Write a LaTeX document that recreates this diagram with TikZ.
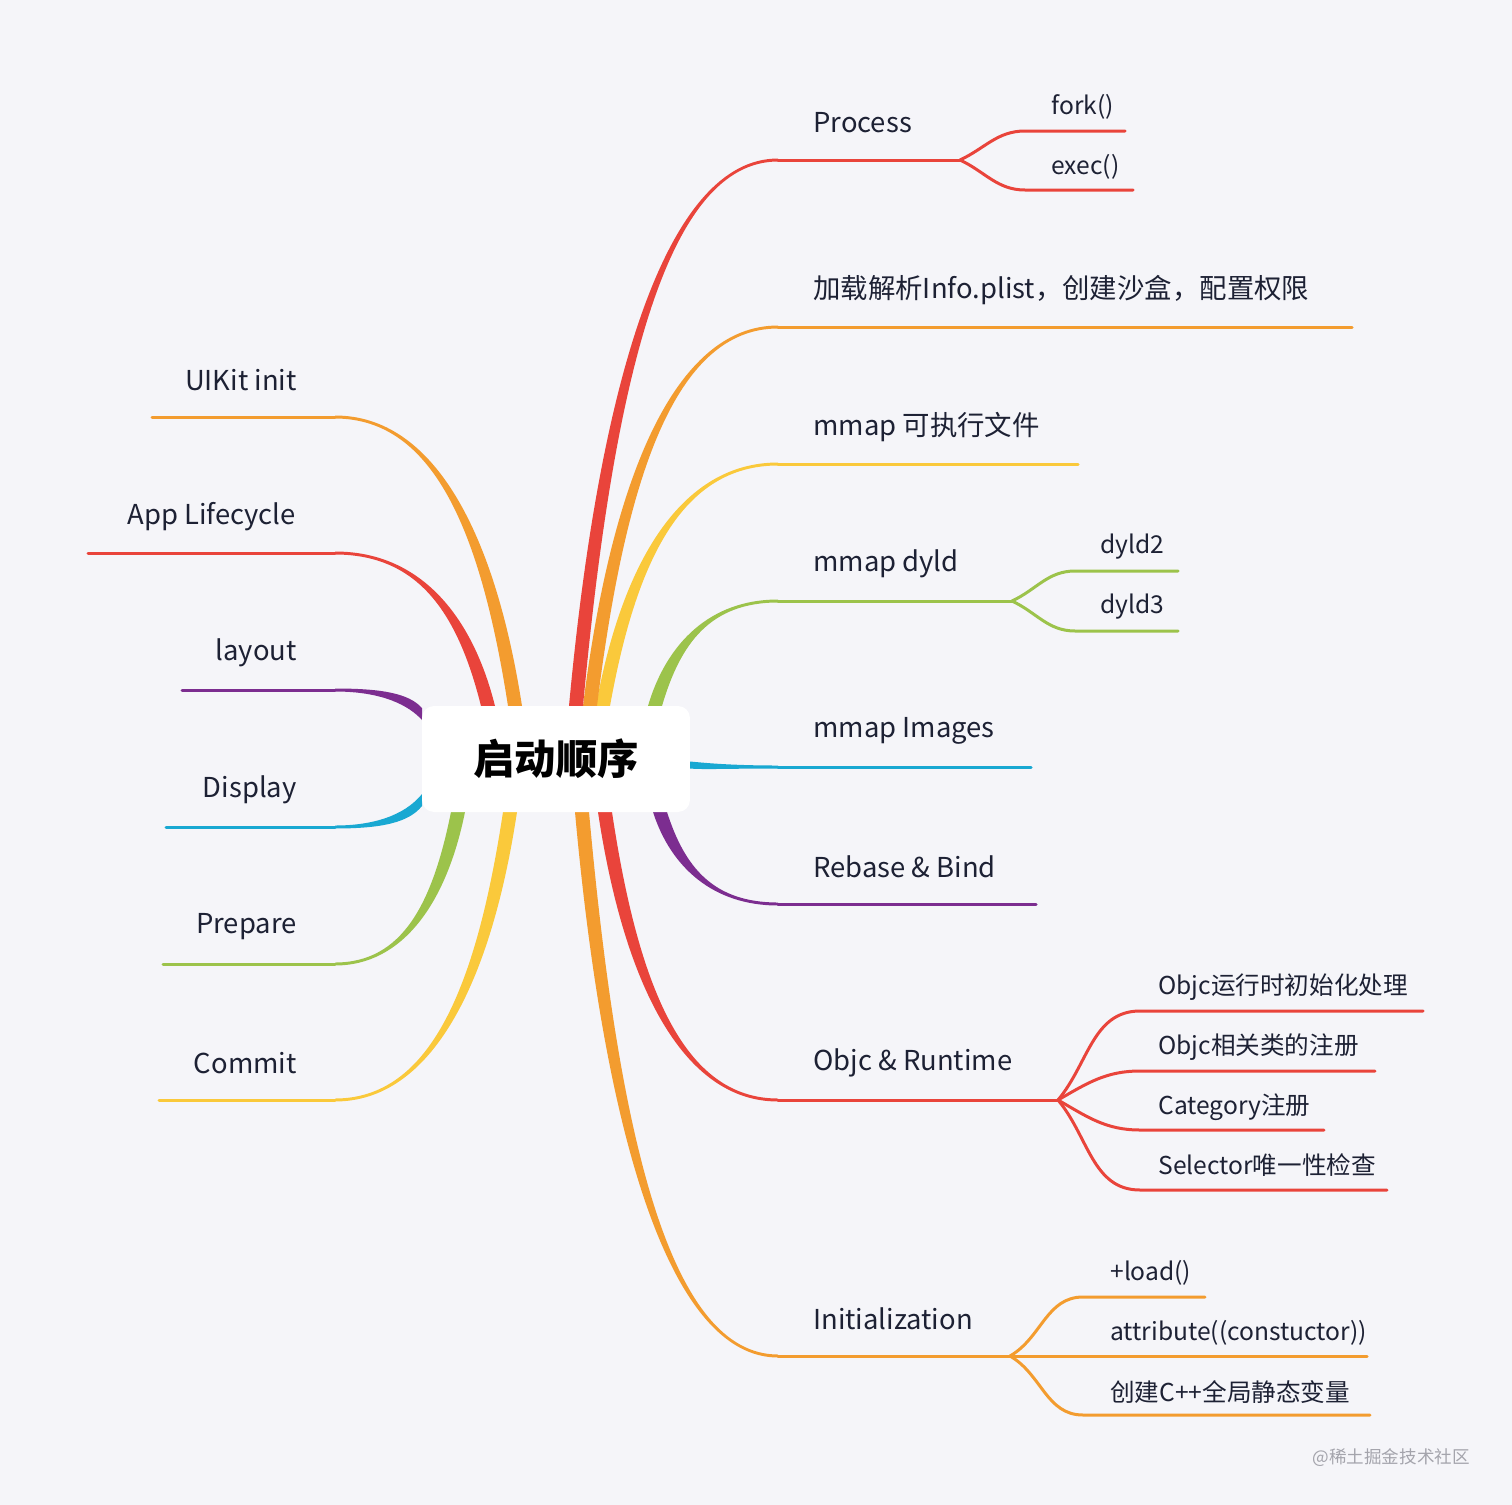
\documentclass[tikz,border=0pt]{standalone}
\usepackage{fontspec}
\setmainfont{Noto Sans CJK SC}
\usetikzlibrary{calc}
\definecolor{bgGray}{HTML}{F5F5F9}
\definecolor{inkNavy}{HTML}{1D2134}
\definecolor{brRed}{HTML}{E9443B}
\definecolor{brOrange}{HTML}{F39C2F}
\definecolor{brYellow}{HTML}{FAC93B}
\definecolor{brGreen}{HTML}{9CC34B}
\definecolor{brCyan}{HTML}{19A8D2}
\definecolor{brPurple}{HTML}{7C2D90}
\definecolor{markGray}{HTML}{A4A4AC}

% tapered branch: colour, start, end, half-width offset at start
\newcommand{\limb}[4]{%
  \fill[#1] let \p1=(#2), \p2=(#3), \p3=(#4) in
    ({\x1+\x3},{\y1+\y3})
      .. controls ({\x1+0.15*(\x2-\x1)+\x3},{\y1+0.6*(\y2-\y1)+\y3})
              and ({\x1+0.45*(\x2-\x1)},{\y2+0.85pt}) .. ({\x2},{\y2+0.85pt})
    -- ({\x2},{\y2-0.85pt})
      .. controls ({\x1+0.45*(\x2-\x1)},{\y2-0.85pt})
              and ({\x1+0.15*(\x2-\x1)-\x3},{\y1+0.6*(\y2-\y1)-\y3}) .. ({\x1-\x3},{\y1-\y3})
    -- cycle;}

\begin{document}
\begin{tikzpicture}[x=0.02cm, y=-0.02cm,
    stem/.style={line width=0.06cm, line cap=round},
    mainlbl/.style={text=inkNavy, font=\fontsize{15.6}{18}\selectfont, inner sep=0pt},
    sublbl/.style={text=inkNavy, font=\fontsize{14}{16}\selectfont, inner sep=0pt, anchor=west},
    hub/.style={fill=white, rounded corners=0.24cm, minimum width=5.36cm,
                minimum height=2.12cm, font=\fontsize{23.5}{26}\bfseries, text=black},
  ]
  \fill[bgGray] (0,0) rectangle (1512,1505);

  % start and end points of the main branches
  \coordinate (procS) at (576,706);  \coordinate (procE) at (778,160);
  \coordinate (plistS) at (590,706); \coordinate (plistE) at (778,327);
  \coordinate (exeS) at (603,706);   \coordinate (exeE) at (778,464);
  \coordinate (dyldS) at (655,706);  \coordinate (dyldE) at (778,601);
  \coordinate (imgS) at (690,765);   \coordinate (imgE) at (778,767);
  \coordinate (rebS) at (660,812);   \coordinate (rebE) at (778,904);
  \coordinate (objcS) at (605,812);  \coordinate (objcE) at (778,1100);
  \coordinate (initS) at (582,812);  \coordinate (initE) at (778,1356);
  \coordinate (uikitS) at (515,706); \coordinate (uikitE) at (335,417);
  \coordinate (lifeS) at (488,706);  \coordinate (lifeE) at (335,553);
  \coordinate (layS) at (422,714);   \coordinate (layE) at (335,690);
  \coordinate (dispS) at (422,800);  \coordinate (dispE) at (335,827);
  \coordinate (prepS) at (458,812);  \coordinate (prepE) at (335,964);
  \coordinate (comS) at (510,812);   \coordinate (comE) at (335,1100);

  \limb{brOrange}{uikitS}{uikitE}{7,0}
  \limb{brRed}{lifeS}{lifeE}{7,0}
  \limb{brPurple}{layS}{layE}{0,-6}
  \limb{brCyan}{dispS}{dispE}{0,-6}
  \limb{brGreen}{prepS}{prepE}{-7,0}
  \limb{brYellow}{comS}{comE}{-7,0}
  \limb{brOrange}{initS}{initE}{7,0}
  \limb{brRed}{objcS}{objcE}{7,0}
  \limb{brPurple}{rebS}{rebE}{7,0}
  \limb{brCyan}{imgS}{imgE}{0,-3.5}
  \limb{brGreen}{dyldS}{dyldE}{-7,0}
  \limb{brYellow}{exeS}{exeE}{-7,0}
  \limb{brOrange}{plistS}{plistE}{-7,0}
  \limb{brRed}{procS}{procE}{-7,0}

  % right side
  \draw[stem, brRed] (procE) -- (960,160) coordinate (procK);
  \node[mainlbl, anchor=west] (proc) at (813,123) {Process};
  \coordinate (forkE) at (1025,131); \coordinate (execE) at (1025,190);
  \draw[stem, brRed] (procK) to[out=25, in=180] (forkE) -- (1125,131);
  \draw[stem, brRed] (procK) to[out=-25, in=180] (execE) -- (1133,190);
  \node[sublbl] (fork) at (1051,107) {fork()};
  \node[sublbl] (exec) at (1051,167) {exec()};

  \draw[stem, brOrange] (plistE) -- (1352,327);
  \node[mainlbl, anchor=west] (plist) at (813,290) {加载解析Info.plist，创建沙盒，配置权限};

  \draw[stem, brYellow] (exeE) -- (1078,464);
  \node[mainlbl, anchor=west] (exe) at (813,427) {mmap 可执行文件};

  \draw[stem, brGreen] (dyldE) -- (1012,601) coordinate (dyldK);
  \node[mainlbl, anchor=west] (dyld) at (813,564) {mmap dyld};
  \coordinate (dyldTwoE) at (1075,571); \coordinate (dyldThreeE) at (1075,631);
  \draw[stem, brGreen] (dyldK) to[out=25, in=180] (dyldTwoE) -- (1178,571);
  \draw[stem, brGreen] (dyldK) to[out=-25, in=180] (dyldThreeE) -- (1178,631);
  \node[sublbl] (dyldTwo) at (1100,547) {dyld2};
  \node[sublbl] (dyldThree) at (1100,607) {dyld3};

  \draw[stem, brCyan] (imgE) -- (1031,767);
  \node[mainlbl, anchor=west] (img) at (813,731) {mmap Images};

  \draw[stem, brPurple] (rebE) -- (1036,904);
  \node[mainlbl, anchor=west] (reb) at (813,867) {Rebase \& Bind};

  \draw[stem, brRed] (objcE) -- (1058,1100) coordinate (objcK);
  \node[mainlbl, anchor=west] (objc) at (813,1063) {Objc \& Runtime};
  \coordinate (rtE) at (1140,1011);  \coordinate (regE) at (1140,1071);
  \coordinate (catE) at (1140,1130); \coordinate (selE) at (1140,1190);
  \draw[stem, brRed] (objcK) to[out=50, in=180] (rtE) -- (1423,1011);
  \draw[stem, brRed] (objcK) to[out=30, in=180] (regE) -- (1375,1071);
  \draw[stem, brRed] (objcK) to[out=-30, in=180] (catE) -- (1324,1130);
  \draw[stem, brRed] (objcK) to[out=-50, in=180] (selE) -- (1387,1190);
  \node[sublbl] (rt) at (1158,987) {Objc运行时初始化处理};
  \node[sublbl] (reg) at (1158,1047) {Objc相关类的注册};
  \node[sublbl] (cat) at (1158,1107) {Category注册};
  \node[sublbl] (sel) at (1158,1165) {Selector唯一性检查};

  \draw[stem, brOrange] (initE) -- (1010,1356) coordinate (initK) -- (1367,1356);
  \node[mainlbl, anchor=west] (init) at (813,1319) {Initialization};
  \coordinate (loadE) at (1083,1297); \coordinate (cppE) at (1083,1415);
  \draw[stem, brOrange] (initK) to[out=30, in=180] (loadE) -- (1205,1297);
  \draw[stem, brOrange] (initK) to[out=-30, in=180] (cppE) -- (1370,1415);
  \node[sublbl] (load) at (1110,1273) {+load()};
  \node[sublbl] (attr) at (1110,1333) {attribute((constuctor))};
  \node[sublbl] (cpp) at (1110,1392) {创建C++全局静态变量};

  % left side
  \draw[stem, brOrange] (uikitE) -- (152,417);
  \node[mainlbl, anchor=east] (uikit) at (297,380) {UIKit init};
  \draw[stem, brRed] (lifeE) -- (88,553);
  \node[mainlbl, anchor=east] (life) at (296,517) {App Lifecycle};
  \draw[stem, brPurple] (layE) -- (182,690);
  \node[mainlbl, anchor=east] (lay) at (297,653) {layout};
  \draw[stem, brCyan] (dispE) -- (166,827);
  \node[mainlbl, anchor=east] (disp) at (297,790) {Display};
  \draw[stem, brGreen] (prepE) -- (163,964);
  \node[mainlbl, anchor=east] (prep) at (297,927) {Prepare};
  \draw[stem, brYellow] (comE) -- (159,1100);
  \node[mainlbl, anchor=east] (com) at (297,1063) {Commit};

  \node[hub] (root) at (556,759) {启动顺序};

  \node[text=markGray, font=\fontsize{10}{12}\selectfont, anchor=east] (mark) at (1476,1458) {@稀土掘金技术社区};
\end{tikzpicture}
\end{document}
